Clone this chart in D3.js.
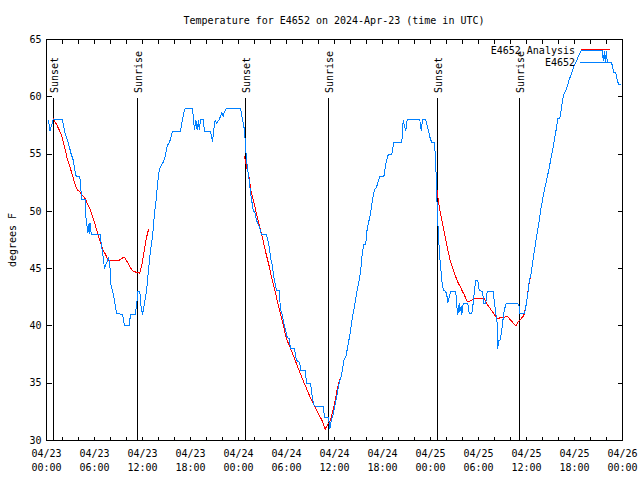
<!DOCTYPE html>
<html><head><meta charset="utf-8">
<script src="https://cdn.jsdelivr.net/npm/d3@7"></script>
<style>
body{margin:0;background:#fff}
svg{display:block}
text{font-family:"DejaVu Sans Mono",monospace;font-size:10px;fill:#000}
</style>
</head><body>
<svg id="c" width="640" height="480"></svg>
<script>
// hours since 2024-04-23 00:00 UTC, temperature °F
const observed = [[0.25,58],[0.42,57],[0.83,58],[2.0,58],[2.25,57],[2.58,56.3],[2.83,55.7],[3.08,55],[3.33,54.5],[3.67,53.1],[4.17,53],[4.25,52.2],[4.42,51],[4.83,51],[4.92,49.5],[5.17,48.1],[5.33,49],[5.42,48],[5.5,49],[5.58,48],[5.75,48],[6.75,48],[6.83,47.2],[7.08,46],[7.25,45],[7.5,45.5],[7.75,45.9],[7.92,45.5],[8.0,43.7],[8.25,43.1],[8.5,42.2],[8.75,41.1],[9.5,41],[9.75,40],[10.33,40],[10.5,41],[11.08,41],[11.25,41.7],[11.42,43],[11.67,43],[11.75,42],[12.0,41],[12.25,42],[12.5,43],[12.67,44.3],[13.0,46.6],[13.25,47.8],[13.5,49.8],[13.75,51.3],[13.91,52.6],[14.09,53.6],[14.34,54],[14.59,54.3],[14.84,54.8],[15.09,55.7],[15.41,56.1],[15.75,57],[16.75,57],[16.91,57.7],[17.16,58.6],[17.34,59],[18.25,59],[18.5,57.1],[18.66,58],[18.84,57.1],[19.0,58],[19.09,57.1],[19.25,58],[19.59,58],[19.75,57],[20.5,57],[20.75,56.1],[20.91,57.1],[21.09,58],[21.25,57.7],[21.59,58],[21.91,58.6],[22.09,58.3],[22.25,58.7],[22.5,59],[24.25,59],[24.5,58],[24.75,57.1],[24.91,55.4],[25.0,54.5],[25.16,53.6],[25.34,52.7],[25.5,51.6],[25.66,50.9],[25.84,50.1],[26.09,49.8],[26.25,49.2],[26.59,48.7],[26.84,48],[27.5,48],[27.66,47.5],[27.84,46.9],[28.0,46],[28.25,45.2],[28.41,44.3],[28.59,43.7],[28.75,43.1],[29.09,43.1],[29.25,41.4],[29.5,40.9],[29.66,40.2],[29.91,39.6],[30.09,39],[30.34,38.9],[30.5,38],[31.0,38],[31.25,37],[31.66,36.8],[31.75,36.1],[32.34,36.1],[32.5,35],[33.0,35],[33.16,34.1],[33.41,33.1],[33.59,33],[34.59,33],[34.75,32],[35.25,32],[35.41,31],[35.59,31.7],[35.84,32.3],[36.09,33.2],[36.34,34.1],[36.59,35],[36.91,35.8],[37.16,37],[37.41,37.3],[37.66,38.2],[37.91,39.2],[38.25,40.8],[38.5,41.7],[38.75,42.8],[39.0,43.7],[39.25,44.7],[39.5,46.5],[39.66,47.1],[39.91,47.1],[40.0,48.1],[40.25,49],[40.5,49.8],[40.75,51],[41.0,51.9],[41.25,52.1],[41.41,52.5],[41.66,53],[42.16,53],[42.41,54.1],[42.66,54.9],[43.16,55],[43.41,56],[44.41,56],[44.59,58],[44.75,57.4],[44.91,57],[45.09,58],[46.66,58],[46.84,57],[47.0,58],[47.41,58],[47.66,57.3],[47.91,56.5],[48.16,56],[48.5,56],[48.66,54.2],[48.75,51.9],[48.91,49.2],[49.0,47.8],[49.16,46],[49.34,44.6],[49.5,43.4],[49.66,43.1],[49.91,43],[50.09,42.5],[50.16,42],[50.34,42.5],[50.5,43],[51.16,43],[51.25,42],[51.41,41],[51.59,42],[51.66,41.2],[51.84,41.7],[51.91,41],[52.09,42],[52.66,42],[52.84,41.1],[53.16,41.1],[53.34,42],[53.5,43.1],[53.66,44],[53.91,44],[54.09,43.1],[54.5,43],[54.66,42],[54.91,42],[55.09,43],[55.84,43],[56.0,42],[56.16,41.1],[56.34,40.2],[56.41,38],[56.5,38.7],[56.66,38.7],[56.84,39.3],[57.0,40.2],[57.16,41.1],[57.34,41.7],[57.5,42],[58.84,42],[59.09,41.7],[59.16,41.1],[59.75,41.1],[60.0,42],[60.16,42.8],[60.34,43.9],[60.59,44.6],[60.75,45.5],[61.0,46.6],[61.25,47.8],[61.5,48.8],[61.75,50],[62.0,51],[62.25,51.9],[62.5,52.7],[62.75,53.5],[63.0,54.4],[63.25,55.3],[63.5,56.3],[63.75,57.3],[63.91,58.1],[64.16,58.1],[64.34,58.9],[64.5,59.7],[64.66,60.2],[64.91,60.5],[65.09,60.9],[65.25,61.3],[65.5,61.8],[65.66,62.1],[65.84,62.5],[66.09,62.9],[66.25,63.1],[66.41,63.4],[66.66,63.8],[66.84,64],[69.5,64],[69.59,63.1],[69.75,64],[69.84,63],[70.0,64],[70.09,63],[70.59,63],[70.75,62.7],[70.91,62.1],[71.16,62.1],[71.34,61.5],[71.5,61.1],[71.66,61.1],[71.84,61]];

const analysisNight1 = [[0.84,58.1],[1.25,57.6],[1.59,57.1],[1.84,56.7],[2.09,56.1],[2.34,55.4],[2.59,54.6],[2.84,54.1],[3.09,53.5],[3.34,52.9],[3.59,52.3],[3.84,51.9],[4.16,51.7],[4.5,51.4],[4.84,51.1],[5.16,50.6],[5.5,50.1],[5.84,49.4],[6.09,48.8],[6.34,48.2],[6.59,47.6],[6.84,47.1],[7.09,46.6],[7.34,46.3],[7.59,45.9],[7.84,45.7],[8.41,45.7],[9.0,45.7],[9.41,45.9],[9.75,46.0],[10.09,45.6],[10.41,45.2],[10.75,44.8],[11.16,44.7],[11.66,44.6],[11.91,45.3],[12.16,46.3],[12.41,47.4],[12.66,48.2],[12.84,48.5]];

const analysisNight2 = [[24.75,54.8],[25.0,53.9],[25.25,53.3],[25.41,52.5],[25.59,51.7],[25.84,51],[26.09,50.3],[26.34,49.5],[26.59,48.8],[26.84,48.1],[27.09,47.4],[27.34,46.6],[27.59,45.9],[27.84,45.2],[28.09,44.4],[28.34,43.7],[28.59,43.0],[28.84,42.2],[29.09,41.5],[29.34,40.8],[29.59,40.1],[29.84,39.3],[30.09,38.7],[30.41,38.2],[30.75,37.6],[31.09,37.0],[31.41,36.4],[31.75,35.8],[32.09,35.2],[32.41,34.7],[32.75,34.1],[33.16,33.5],[33.59,32.9],[34.0,32.3],[34.41,31.8],[34.84,31.0],[35.16,31.4],[35.41,31.6],[35.66,32.2],[35.91,32.9],[36.16,33.8],[36.41,34.7],[36.66,35.4]];

const analysisNight3 = [[48.84,51.9],[48.91,51.3],[49.0,50.9],[49.16,50.1],[49.34,49.5],[49.5,49.0],[49.66,48.4],[49.84,47.8],[50.0,47.2],[50.16,46.6],[50.34,46.1],[50.5,45.6],[50.75,45.1],[51.0,44.6],[51.25,44.1],[51.5,43.7],[51.75,43.4],[52.0,43.0],[52.25,42.7],[52.5,42.2],[52.75,42.1],[53.0,42.2],[53.25,42.3],[53.5,42.4],[54.75,42.4],[54.91,42.1],[55.16,41.8],[55.41,41.6],[55.66,41.3],[55.91,41.1],[56.16,40.8],[56.41,40.6],[56.66,40.7],[56.91,40.7],[57.16,40.7],[57.41,40.8],[57.66,40.8],[57.91,40.6],[58.16,40.4],[58.41,40.2],[58.66,40.0],[58.91,40.3],[59.16,40.5],[59.41,40.7],[59.66,40.9],[59.91,41.7],[60.09,42.5],[60.25,43.4],[60.41,44.0],[60.59,44.6]];

const sunLabels = ["Sunset","Sunrise","Sunset","Sunrise","Sunset","Sunrise"];
const sunHours  = [0.875, 11.375, 24.875, 35.25, 48.875, 59.125];

const yTicks = [30,35,40,45,50,55,60,65];
const minorStepHours = 2;
const labelStepHours = 6;
const titleText = "Temperature for E4652 on 2024-Apr-23 (time in UTC)";
const legendNames = ["E4652 Analysis","E4652"];

const startUTC = Date.UTC(2024,3,23,0,0);
const toDate = h => new Date(startUTC + h*3600000);

const L = 46.5, R = 622.5, T = 39.5, B = 440.5;
const x = d3.scaleUtc().domain([toDate(0), toDate(72)]).range([L, R]);
const y = d3.scaleLinear().domain([30,65]).range([B, T]);

const svg = d3.select("#c");

const tickDates = d3.range(0, 72 + 0.001, minorStepHours).map(toDate);
const labelDates = d3.range(0, 72 + 0.001, labelStepHours).map(toDate);

const ax = (g) => g.call(s => s.select(".domain").remove());
svg.append("g").attr("transform",`translate(0,${B})`)
  .call(d3.axisBottom(x).tickValues(tickDates).tickSize(-4).tickFormat("").offset(0)).call(ax);
svg.append("g").attr("transform",`translate(0,${T})`)
  .call(d3.axisTop(x).tickValues(tickDates).tickSize(-4).tickFormat("").offset(0)).call(ax);
const gl = svg.append("g").attr("transform",`translate(${L},0)`)
  .call(d3.axisLeft(y).tickValues(yTicks).tickSize(-5).tickPadding(5).tickFormat(d3.format("d")).offset(0)).call(ax);
gl.selectAll("text").attr("font-family",null).attr("font-size",null);
svg.append("g").attr("transform",`translate(${R},0)`)
  .call(d3.axisRight(y).tickValues(yTicks).tickSize(-5).tickFormat("").offset(0)).call(ax);
svg.selectAll(".tick line").attr("stroke","#000").attr("shape-rendering","crispEdges");

const fmtD = d3.utcFormat("%m/%d"), fmtT = d3.utcFormat("%H:%M");
const xl = svg.append("g");
labelDates.forEach(d => {
  const t = xl.append("text").attr("x", x(d)).attr("text-anchor","middle");
  t.append("tspan").attr("x", x(d)).attr("y", 457).text(fmtD(d));
  t.append("tspan").attr("x", x(d)).attr("y", 471).text(fmtT(d));
});

sunHours.forEach((h,i) => {
  const xx = x(toDate(h));
  svg.append("line").attr("x1",xx).attr("x2",xx).attr("y1",97.5).attr("y2",B)
    .attr("stroke","#000").attr("stroke-width",1).attr("shape-rendering","crispEdges");
  svg.append("text").attr("transform",`translate(${xx+0.5},93) rotate(-90)`)
    .attr("dy","0.35em").attr("text-anchor","start").text(sunLabels[i]);
});

const line = d3.line().x(d => x(toDate(d[0]))).y(d => y(d[1]));
[analysisNight1, analysisNight2, analysisNight3].forEach(seg => {
  svg.append("path").datum(seg).attr("d", line).attr("fill","none")
    .attr("stroke","#ff0000").attr("stroke-width",1).attr("shape-rendering","crispEdges");
});
svg.append("path").datum(observed).attr("d", line).attr("fill","none")
  .attr("stroke","#0080ff").attr("stroke-width",1).attr("shape-rendering","crispEdges");

svg.append("rect").attr("x",L).attr("y",T).attr("width",R-L).attr("height",B-T)
  .attr("fill","none").attr("stroke","#000").attr("shape-rendering","crispEdges");

svg.append("text").attr("x",575).attr("y",50).attr("dy","0.35em").attr("text-anchor","end").text(legendNames[0]);
svg.append("line").attr("x1",581).attr("x2",610).attr("y1",49.5).attr("y2",49.5)
  .attr("stroke","#ff0000").attr("shape-rendering","crispEdges");
svg.append("text").attr("x",575).attr("y",62.5).attr("dy","0.35em").attr("text-anchor","end").text(legendNames[1]);
svg.append("line").attr("x1",580).attr("x2",612).attr("y1",62.5).attr("y2",62.5)
  .attr("stroke","#0080ff").attr("shape-rendering","crispEdges");

svg.append("text").attr("x",334).attr("y",20).attr("dy","0.35em").attr("text-anchor","middle").text(titleText);
svg.append("text").attr("transform","translate(12,240) rotate(-90)").attr("dy","0.35em")
  .attr("text-anchor","middle").text("degrees F");
</script>
</body></html>
